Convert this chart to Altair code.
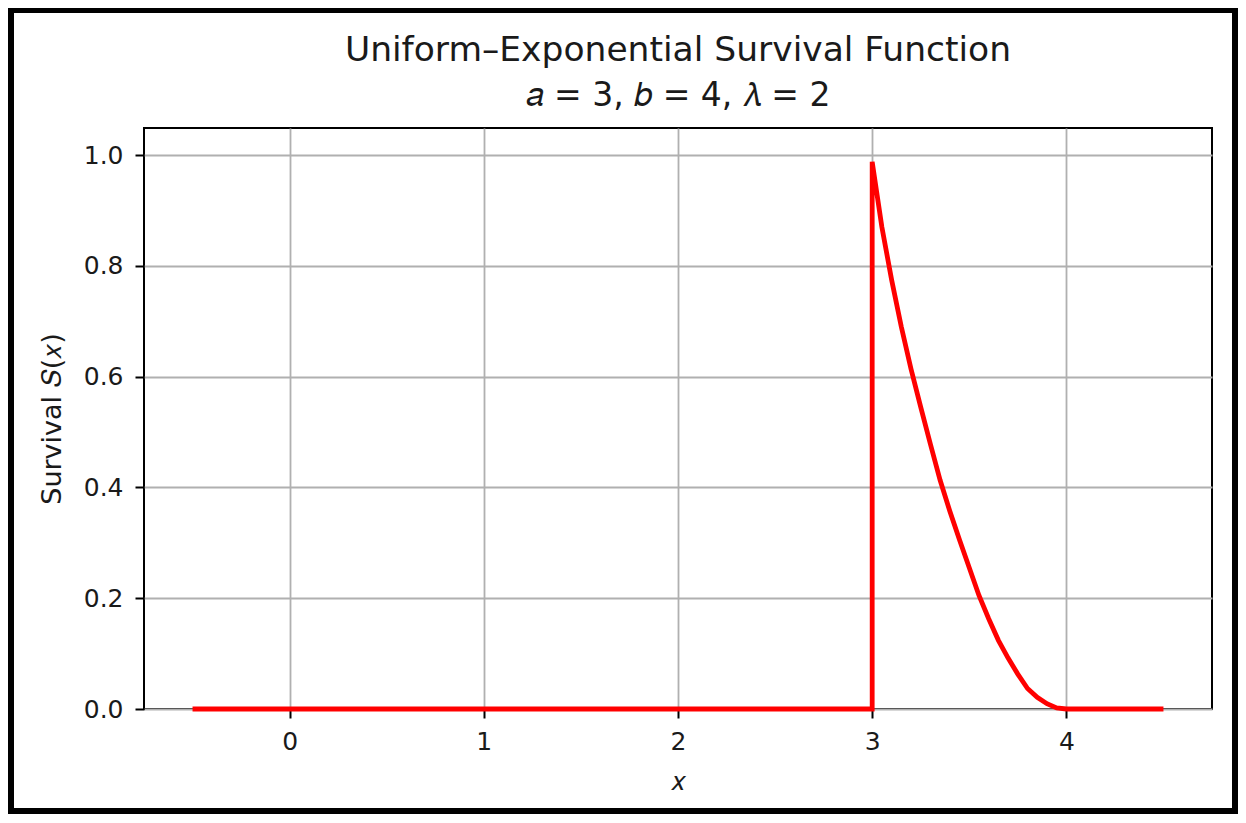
import altair as alt
import pandas as pd

# Survival curve
xs = [-0.5, 3.0, 3.0, 3.05, 3.10, 3.15, 3.20, 3.25, 3.30, 3.35, 3.40, 3.45, 3.50,
      3.55, 3.60, 3.65, 3.70, 3.75, 3.80, 3.85, 3.90, 3.95, 4.0, 4.5]
ys = [0.0, 0.0, 0.988, 0.87, 0.775, 0.69, 0.614, 0.545, 0.478, 0.413, 0.357, 0.305, 0.255,
      0.205, 0.163, 0.124, 0.092, 0.063, 0.037, 0.021, 0.0095, 0.002, 0.0, 0.0]

x_ticks = [0, 1, 2, 3, 4]
y_ticks = [0.0, 0.2, 0.4, 0.6, 0.8, 1.0]

title_text = "Uniform–Exponential Survival Function"
subtitle_text = "𝑎 = 3, 𝑏 = 4, 𝜆 = 2"
x_title = "𝑥"
y_title = "Survival 𝑆(𝑥)"

df = pd.DataFrame({"x": xs, "y": ys, "i": list(range(len(xs)))})

W, H = 1068, 581
FONT = "DejaVu Sans"

x_enc = alt.X("x:Q", scale=alt.Scale(domain=[-0.75, 4.75], nice=False, zero=False),
              axis=alt.Axis(values=x_ticks, format="d", title=x_title, titlePadding=14,
                            labelPadding=11))
y_enc = alt.Y("y:Q", scale=alt.Scale(domain=[0, 1.049], nice=False, zero=False),
              axis=alt.Axis(values=y_ticks, format=".1f", title=y_title, titlePadding=17,
                            labelPadding=12))

curve = alt.Chart(df).mark_line(color="#ff0000", strokeWidth=4.8, clip=False).encode(
    x=x_enc, y=y_enc, order="i:Q"
)

frame = alt.Chart(pd.DataFrame({"k": [0]})).mark_rect(
    filled=False, stroke="black", strokeWidth=8, clip=False
).encode(
    x=alt.value(-134), x2=alt.value(1092), y=alt.value(-119), y2=alt.value(684)
)

chart = alt.layer(curve, frame).properties(
    width=W, height=H, background="white",
    title=alt.Title(text=title_text, subtitle=subtitle_text, anchor="middle",
                    font=FONT, fontSize=34.5, fontWeight="normal", color="#1a1a1a",
                    subtitleFont=FONT, subtitleFontSize=33, subtitleColor="#1a1a1a",
                    subtitlePadding=12, offset=-109),
    padding={"left": 136, "top": 120, "right": 26, "bottom": 105},
    autosize=alt.AutoSizeParams(type="none"),
).configure_view(
    stroke="black", strokeWidth=2
).configure_axis(
    grid=True, gridColor="#b0b0b0", gridWidth=1.8, domain=False,
    ticks=True, tickSize=9, tickWidth=2, tickColor="black",
    labelFont=FONT, labelFontSize=25, labelColor="#1a1a1a",
    titleFont=FONT, titleFontSize=27, titleFontWeight="normal", titleColor="#1a1a1a",
)

chart.save("out.html", embed_options={"renderer": "svg", "actions": False})
